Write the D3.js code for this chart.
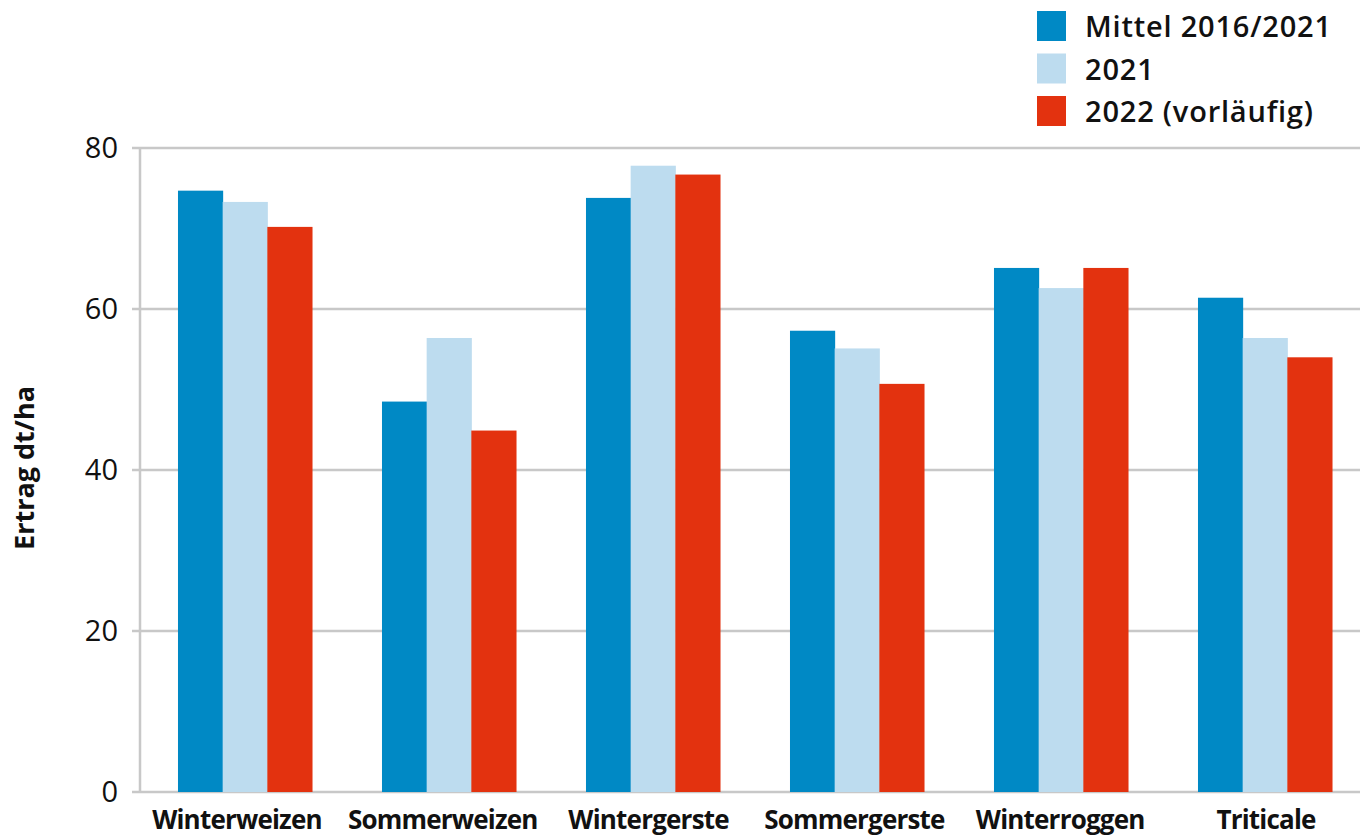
<!DOCTYPE html>
<html>
<head>
<meta charset="utf-8">
<script src="https://cdn.jsdelivr.net/npm/d3@7"></script>
<style>
  body { margin: 0; background: #fff; }
  svg { display: block; }
  text { font-family: "Open Sans", "Noto Sans", sans-serif; fill: #111; }
</style>
</head>
<body>
<svg id="chart"></svg>
<script>
var categories = ["Winterweizen", "Sommerweizen", "Wintergerste", "Sommergerste", "Winterroggen", "Triticale"],
	seriesNames = ["Mittel 2016/2021", "2021", "2022 (vorläufig)"],
	mittel = [74.7, 48.5, 73.8, 57.3, 65.1, 61.4],
	jahr2021 = [73.3, 56.4, 77.8, 55.1, 62.6, 56.4],
	jahr2022 = [70.2, 44.9, 76.7, 50.7, 65.1, 54.0],
	yTicks = [0, 20, 40, 60, 80],
	colors = ["#0089c5", "#bddcef", "#e3320f"];

var width = 1368, height = 838;
var svg = d3.select("#chart").attr("width", width).attr("height", height);

var allSeries = [mittel, jahr2021, jahr2022];

var x = d3.scaleBand()
	.domain(categories)
	.range([143, 1367])
	.paddingInner(0.343)
	.paddingOuter(0.1715);

// the category labels sit on a slightly wider spacing than the bars
var xLabel = d3.scalePoint()
	.domain(categories)
	.range([237, 1266]);

var xs = d3.scaleBand()
	.domain(d3.range(seriesNames.length))
	.range([0, x.bandwidth()]);

var y = d3.scaleLinear()
	.domain([0, 80])
	.range([792, 148]);

// gridlines
svg.append("g").selectAll("line")
	.data(yTicks)
	.enter().append("line")
	.attr("x1", 132)
	.attr("x2", 1360)
	.attr("y1", function(d){ return y(d); })
	.attr("y2", function(d){ return y(d); })
	.attr("stroke", "#c8c8c8")
	.attr("stroke-width", 2.5);

// vertical axis line
svg.append("line")
	.attr("x1", 140).attr("x2", 140)
	.attr("y1", y(80)).attr("y2", y(0))
	.attr("stroke", "#c8c8c8")
	.attr("stroke-width", 2.5);

// y tick labels
svg.append("g").selectAll("text")
	.data(yTicks)
	.enter().append("text")
	.attr("x", 118)
	.attr("y", function(d){ return y(d); })
	.attr("dy", "0.35em")
	.attr("text-anchor", "end")
	.style("font-size", "29px")
	.style("font-weight", "500")
	.text(function(d){ return d; });

// bars
var groups = svg.append("g").selectAll("g")
	.data(categories)
	.enter().append("g")
	.attr("transform", function(d){ return "translate(" + x(d) + ",0)"; });

groups.selectAll("rect")
	.data(function(d, i){
		return allSeries.map(function(s, j){ return {s: j, v: s[i]}; });
	})
	.enter().append("rect")
	.attr("x", function(d){ return xs(d.s); })
	.attr("width", xs.bandwidth() + 0.5)
	.attr("y", function(d){ return y(d.v); })
	.attr("height", function(d){ return y(0) - y(d.v); })
	.attr("fill", function(d){ return colors[d.s]; });

// x labels
svg.append("g").selectAll("text")
	.data(categories)
	.enter().append("text")
	.attr("x", function(d){ return xLabel(d); })
	.attr("y", 829)
	.attr("text-anchor", "middle")
	.style("font-size", "26px")
	.style("font-weight", "bold")
	.style("letter-spacing", "-0.8px")
	.text(function(d){ return d; });

// y axis title
svg.append("text")
	.attr("transform", "translate(34,468) rotate(-90)")
	.attr("text-anchor", "middle")
	.style("font-size", "27px")
	.style("font-weight", "bold")
	.text("Ertrag dt/ha");

// legend
var legend = svg.append("g").selectAll("g")
	.data(seriesNames)
	.enter().append("g")
	.attr("transform", function(d, i){ return "translate(1037," + (11 + i * 42.5) + ")"; });

legend.append("rect")
	.attr("width", 29)
	.attr("height", 30)
	.attr("fill", function(d, i){ return colors[i]; });

legend.append("text")
	.attr("x", 48)
	.attr("y", 16)
	.attr("dy", "0.35em")
	.style("font-size", "29px")
	.style("font-weight", "600")
	.style("letter-spacing", "0.8px")
	.text(function(d){ return d; });
</script>
</body>
</html>
